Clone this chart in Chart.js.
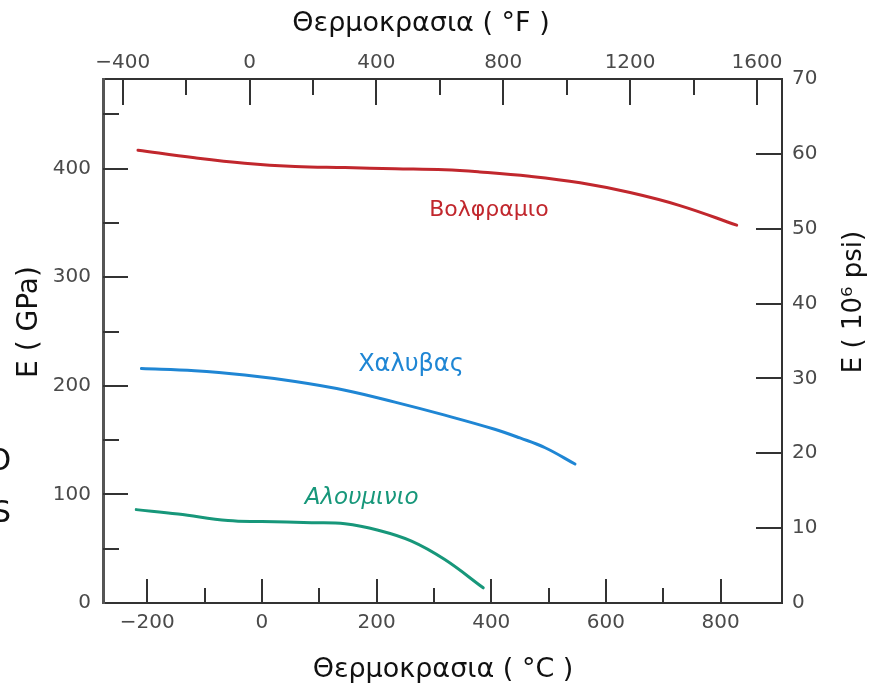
<!DOCTYPE html>
<html>
<head>
<meta charset="utf-8">
<script src="https://cdn.jsdelivr.net/npm/chart.js@4.4.1/dist/chart.umd.min.js"></script>
<style>
html,body{margin:0;padding:0;background:#ffffff;}
#wrap{width:888px;height:686px;position:relative;}
</style>
</head>
<body>
<div id="wrap"><canvas id="c" width="888" height="686"></canvas></div>
<script>
// ---- data ----
const tungstenTempC = [-216, -117, -30, 58, 145, 232, 319, 380, 467, 555, 642, 729, 828];
const tungstenE     = [417, 410, 405, 402, 401, 400, 399, 397, 393, 387, 378, 366, 348];
const steelTempC    = [-210, -117, -30, 58, 145, 232, 319, 406, 450, 494, 546];
const steelE        = [216, 214, 210, 204, 196, 185, 173, 160, 152, 143, 128];
const aluminumTempC = [-219, -146, -59, 0, 87, 145, 203, 261, 319, 386];
const aluminumE     = [86, 82, 76, 75, 74, 73, 67, 57, 40, 14];

const seriesNames = ['Βολφραμιο', 'Χαλυβας', 'Αλουμινιο'];

const celsiusTicks  = [-200, 0, 200, 400, 600, 800];
const celsiusLabels = ['\u2212200', '0', '200', '400', '600', '800'];
const celsiusMinor  = [-100, 100, 300, 500, 700];
const fahrTicks     = [-400, 0, 400, 800, 1200, 1600];
const fahrLabels    = ['\u2212400', '0', '400', '800', '1200', '1600'];
const fahrMinor     = [-200, 200, 600, 1000, 1400];
const gpaTicks      = [0, 100, 200, 300, 400];
const gpaLabels     = ['0', '100', '200', '300', '400'];
const gpaMinor      = [50, 150, 250, 350, 450];
const psiTicks      = [0, 10, 20, 30, 40, 50, 60, 70];
const psiLabels     = ['0', '10', '20', '30', '40', '50', '60', '70'];

const xTitleBottom = 'Θερμοκρασια ( °C )';
const xTitleTop    = 'Θερμοκρασια ( °F )';
const yTitleLeft   = 'E ( GPa)';
const yTitleRight  = 'E ( 10⁶ psi)';

// ---- styling ----
const COLORS = ['#c1272d', '#1f86d4', '#17977a'];
const FONT = 'DejaVu Sans';
const TICK_COLOR = '#4a4a4a';
const AXIS_COLOR = '#333333';

function pts(xs, ys) { return xs.map((x, i) => ({x: x, y: ys[i]})); }
function setTicks(list) { return function (s) { s.ticks = list.map(v => ({value: v})); }; }
function labelFrom(values, labels) { return function (v) { const i = values.indexOf(v); return i >= 0 ? labels[i] : ''; }; }

const tickFont = {family: FONT, size: 20};

// inward tick marks, drawn at scale pixels
const inwardTicks = {
  id: 'inwardTicks',
  afterDatasetsDraw(chart) {
    const ctx = chart.ctx, a = chart.chartArea, sc = chart.scales;
    ctx.save();
    ctx.strokeStyle = AXIS_COLOR;
    ctx.lineWidth = 2;
    function mark(scale, vals, len) {
      vals.forEach(v => {
        const p = Math.round(scale.getPixelForValue(v));
        ctx.beginPath();
        if (scale.position === 'bottom') { ctx.moveTo(p, a.bottom); ctx.lineTo(p, a.bottom - len); }
        else if (scale.position === 'top') { ctx.moveTo(p, a.top); ctx.lineTo(p, a.top + len); }
        else if (scale.position === 'left') { ctx.moveTo(a.left, p); ctx.lineTo(a.left + len, p); }
        else { ctx.moveTo(a.right, p); ctx.lineTo(a.right - len, p); }
        ctx.stroke();
      });
    }
    mark(sc.x, celsiusTicks, 24);
    mark(sc.x, celsiusMinor, 15);
    mark(sc.xF, fahrTicks, 26);
    mark(sc.xF, fahrMinor, 16);
    mark(sc.y, gpaTicks.filter(v => v > 0), 25);
    mark(sc.y, gpaMinor, 16);
    mark(sc.yPsi, psiTicks.filter(v => v > 0 && v < 70), 26);
    ctx.restore();
  }
};

// axis titles, series labels
const textLayer = {
  id: 'textLayer',
  afterDraw(chart) {
    const ctx = chart.ctx, sc = chart.scales;
    ctx.save();
    ctx.fillStyle = '#111';
    ctx.font = '27px "' + FONT + '"';
    ctx.textAlign = 'center';
    ctx.textBaseline = 'alphabetic';
    ctx.fillText(xTitleTop, 421, 31);
    ctx.fillText(xTitleBottom, 443, 677);

    ctx.textBaseline = 'middle';
    ctx.font = '28px "' + FONT + '"';
    ctx.save(); ctx.translate(30, 322); ctx.rotate(-Math.PI / 2); ctx.fillText(yTitleLeft, 0, 0); ctx.restore();
    ctx.font = '26px "' + FONT + '"';
    ctx.save(); ctx.translate(854, 302); ctx.rotate(-Math.PI / 2); ctx.fillText(yTitleRight, 0, 0); ctx.restore();

    // series labels placed in data coordinates
    const lab = [
      {t: seriesNames[0], c: 396, e: 362, italic: false, size: 22},
      {t: seriesNames[1], c: 260, e: 219, italic: false, size: 24},
      {t: seriesNames[2], c: 174, e: 97, italic: true, size: 23}
    ];
    lab.forEach((l, i) => {
      ctx.fillStyle = COLORS[i];
      ctx.font = (l.italic ? 'italic ' : '') + l.size + 'px "' + FONT + '"';
      ctx.fillText(l.t, sc.x.getPixelForValue(l.c), sc.y.getPixelForValue(l.e));
    });

    // cropped fragments at the left edge of the reference
    ctx.fillStyle = '#111';
    ctx.font = '30px "' + FONT + '"';
    ctx.textAlign = 'right';
    ctx.textBaseline = 'alphabetic';
    ctx.fillText('O', 11, 470);
    ctx.fillText('S', 11, 522);
    ctx.restore();
  }
};

const baseScale = {
  type: 'linear',
  grid: {display: false, drawTicks: false},
  border: {display: true, color: AXIS_COLOR, width: 2}
};

new Chart(document.getElementById('c'), {
  type: 'line',
  data: {
    datasets: [
      {label: seriesNames[0], data: pts(tungstenTempC, tungstenE), borderColor: COLORS[0]},
      {label: seriesNames[1], data: pts(steelTempC, steelE), borderColor: COLORS[1]},
      {label: seriesNames[2], data: pts(aluminumTempC, aluminumE), borderColor: COLORS[2]}
    ].map(d => Object.assign(d, {
      borderWidth: 3, pointRadius: 0, fill: false, tension: 0.4,
      borderCapStyle: 'round', xAxisID: 'x', yAxisID: 'y'
    }))
  },
  options: {
    responsive: false,
    animation: false,
    layout: {padding: 0},
    plugins: {legend: {display: false}, tooltip: {enabled: false}},
    scales: {
      x: Object.assign({}, baseScale, {
        position: 'bottom', min: -277, max: 907,
        ticks: {font: tickFont, color: TICK_COLOR, padding: 8, maxRotation: 0, callback: labelFrom(celsiusTicks, celsiusLabels)},
        afterBuildTicks: setTicks(celsiusTicks),
        afterFit: s => { s.height = 83; }
      }),
      xF: Object.assign({}, baseScale, {
        position: 'top', min: -462, max: 1679,
        ticks: {font: tickFont, color: TICK_COLOR, padding: 4, maxRotation: 0, callback: labelFrom(fahrTicks, fahrLabels)},
        afterBuildTicks: setTicks(fahrTicks),
        afterFit: s => { s.height = 79; }
      }),
      y: Object.assign({}, baseScale, {
        position: 'left', min: 0, max: 482.6,
        border: {display: true, color: '#555', width: 3},
        ticks: {font: tickFont, color: TICK_COLOR, padding: 12, callback: labelFrom(gpaTicks, gpaLabels)},
        afterBuildTicks: setTicks(gpaTicks),
        afterFit: s => { s.width = 103; }
      }),
      yPsi: Object.assign({}, baseScale, {
        position: 'right', min: 0, max: 70,
        ticks: {font: tickFont, color: TICK_COLOR, padding: 10, callback: labelFrom(psiTicks, psiLabels)},
        afterBuildTicks: setTicks(psiTicks),
        afterFit: s => { s.width = 106; }
      })
    }
  },
  plugins: [inwardTicks, textLayer]
});
</script>
</body>
</html>
